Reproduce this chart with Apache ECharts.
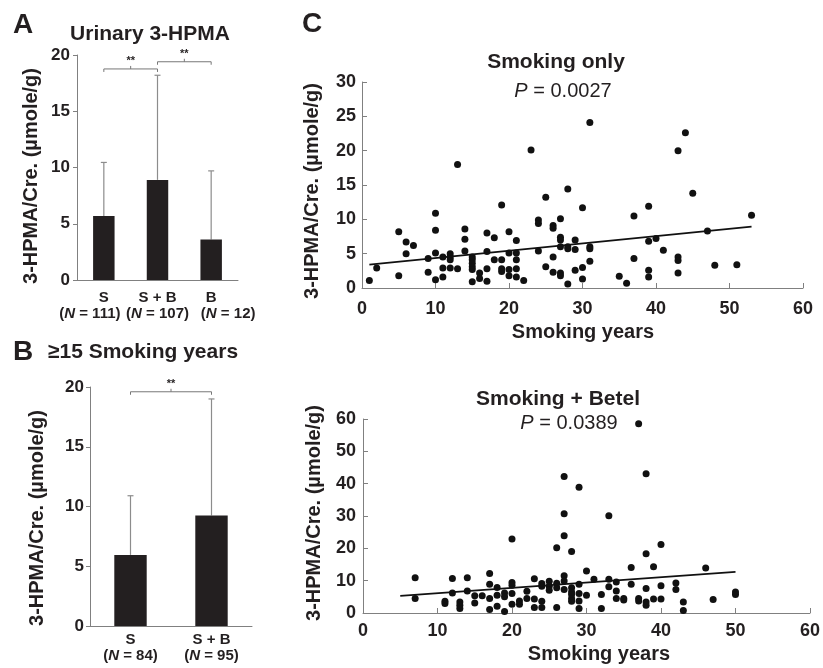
<!DOCTYPE html>
<html>
<head>
<meta charset="utf-8">
<script src="https://cdn.jsdelivr.net/npm/echarts@6/dist/echarts.min.js"></script>
<style>
html,body{margin:0;padding:0;background:#fff;}
#chart{width:823px;height:668px;}
</style>
</head>
<body>
<div id="chart"></div>
<script>
// ---------- DATA ----------
const catsA = ['S', 'S + B', 'B'];
const nA = [111, 107, 12];
const meanA = [5.7, 8.9, 3.6];
const sdA = [4.75, 9.3, 6.1];

const catsB = ['S', 'S + B'];
const nB = [84, 95];
const meanB = [5.95, 9.25];
const sdB = [4.95, 9.75];

const smokingOnly = [
[1,1.1],[2,2.9],[5,8.2],[5,1.8],[6,6.7],[7,6.2],[6,5.0],[9,4.3],[9,2.3],[10,10.9],[10,8.4],[10,5.1],[10,1.2],
[11,4.5],[11,2.9],[11,1.6],[12,5.0],[12,4.5],[12,4.1],[12,2.9],[13,18.0],[13,2.8],[14,8.6],[14,7.1],[14,5.4],
[15,4.5],[15,4.1],[15,3.6],[15,3.1],[15,2.7],[15,0.9],[16,2.2],[16,1.4],[17,8.0],[17,5.3],[17,2.8],[17,1.0],
[18,7.3],[18,4.1],[19,12.1],[19,4.1],[19,2.8],[19,2.4],[20,8.2],[20,5.1],[20,2.7],[20,1.8],[21,6.9],[21,5.1],
[21,4.1],[21,2.8],[21,1.6],[22,1.1],[23,20.1],[24,9.9],[24,9.4],[24,5.4],[25,13.2],[25,3.1],[26,9.1],[26,8.7],
[26,4.5],[26,2.3],[27,10.1],[27,7.4],[27,7.0],[27,6.0],[27,2.2],[27,1.8],[28,14.4],[28,6.0],[28,5.7],[28,0.6],
[29,7.0],[29,5.6],[29,2.6],[30,11.7],[30,3.0],[30,1.3],[31,24.1],[31,6.0],[31,5.7],[31,3.9],[35,1.7],[36,0.7],
[37,10.5],[37,4.3],[39,11.9],[39,6.8],[39,2.6],[39,1.6],[40,7.2],[41,5.5],[43,20.0],[43,4.5],[43,4.0],[43,2.2],
[44,22.6],[45,13.8],[47,8.3],[48,3.3],[51,3.4],[53,10.6]
];
const fitSmokingOnly = [[1, 3.4], [53, 8.95]];

const smokingBetel = [
[7,10.9],[7,4.5],[11,3.6],[11,2.9],[12,10.7],[12,6.2],[13,3.4],[13,2.4],[13,1.4],[14,10.9],[14,6.8],[15,5.3],
[15,3.1],[16,5.3],[17,12.2],[17,8.9],[17,4.5],[17,1.1],[18,7.9],[18,5.5],[18,2.1],[19,6.2],[19,5.0],[19,0.5],
[20,22.9],[20,9.4],[20,8.6],[20,6.0],[20,2.7],[21,3.7],[21,2.7],[22,6.7],[22,4.5],[23,10.6],[23,4.3],[23,1.7],
[24,9.1],[24,8.3],[24,3.6],[24,1.7],[25,9.8],[25,8.3],[25,7.0],[26,20.2],[26,9.2],[26,7.8],[26,1.7],[27,42.2],
[27,30.7],[27,23.9],[27,11.5],[27,9.9],[27,7.3],[28,19.0],[28,7.8],[28,6.5],[28,5.7],[28,4.5],[28,3.6],[29,38.9],
[29,8.9],[29,6.0],[29,3.7],[29,1.4],[30,13.0],[30,5.5],[31,10.4],[32,5.7],[32,1.4],[33,30.1],[33,10.4],[33,8.1],
[34,9.6],[34,6.8],[34,4.5],[35,4.5],[35,4.0],[36,14.1],[36,8.9],[37,58.5],[37,4.5],[37,3.7],[38,43.1],[38,18.3],
[38,7.6],[38,3.4],[38,2.4],[39,14.3],[39,4.3],[40,21.2],[40,8.4],[40,4.3],[42,9.3],[42,7.3],[43,3.4],[43,0.8],
[46,13.9],[47,4.2],[50,6.5],[50,5.7]
];
const fitSmokingBetel = [[5, 5.3], [50, 12.7]];

const pOnly = '0.0027';
const pBetel = '0.0389';

// ---------- STYLE ----------
const FONT = '"Liberation Sans", Arial, Helvetica, sans-serif';
const INK = '#231f20';
const AXIS = '#808080';
const WHISK = '#8c8c8c';

function errRender(params, api) {
  const x = api.value(0);
  const p0 = api.coord([x, api.value(1)]);
  const p1 = api.coord([x, api.value(2)]);
  const cap = 3;
  return {
    type: 'group',
    children: [
      { type: 'line', shape: { x1: p0[0], y1: p0[1], x2: p1[0], y2: p1[1] }, style: { stroke: WHISK, lineWidth: 1.2 } },
      { type: 'line', shape: { x1: p1[0] - cap, y1: p1[1], x2: p1[0] + cap, y2: p1[1] }, style: { stroke: WHISK, lineWidth: 1.2 } }
    ]
  };
}
function bracketRender(params, api) {
  const a = api.coord([api.value(0), api.value(2)]);
  const b = api.coord([api.value(1), api.value(2)]);
  const y = a[1], xm = (a[0] + b[0]) / 2;
  return {
    type: 'group',
    children: [
      { type: 'polyline', shape: { points: [[a[0], y + 3], [a[0], y], [b[0], y], [b[0], y + 3]] }, style: { stroke: '#777', lineWidth: 1, fill: null } },
      { type: 'line', shape: { x1: xm, y1: y, x2: xm, y2: y - 3 }, style: { stroke: '#777', lineWidth: 1 } },
      { type: 'text', x: xm, y: y - 2, style: { text: '**', fill: INK, font: 'bold 11px ' + FONT, textAlign: 'center', textVerticalAlign: 'bottom' } }
    ]
  };
}

// shifts: horizontal offset (px) of the "(N = ..)" line for each category
function catAxis(gi, cats, ns, margin, shifts) {
  const rich = {
    b: { fontFamily: FONT, fontWeight: 'bold', fontSize: 15, lineHeight: 17, color: INK }
  };
  cats.forEach((c, i) => {
    const s = shifts[i] || 0;
    const base = { fontFamily: FONT, fontWeight: 'bold', fontSize: 15, lineHeight: 16, color: INK };
    rich['l' + i] = Object.assign({}, base, s > 0 ? { padding: [0, 0, 0, 2 * s] } : {});
    rich['i' + i] = Object.assign({}, base, { fontStyle: 'italic' });
    rich['r' + i] = Object.assign({}, base, s < 0 ? { padding: [0, -2 * s, 0, 0] } : {});
  });
  return {
    type: 'category', gridIndex: gi, data: cats,
    axisLine: { show: true, lineStyle: { color: AXIS, width: 1 } },
    axisTick: { show: false },
    axisLabel: {
      interval: 0, margin: margin, color: INK, fontFamily: FONT, fontWeight: 'bold', fontSize: 15, lineHeight: 16,
      formatter: (v, i) => '{b|' + v + '}\n{l' + i + '|(}{i' + i + '|N}{r' + i + '| = ' + ns[i] + ')}',
      rich: rich
    }
  };
}
function valAxisBar(gi, margin) {
  return {
    type: 'value', gridIndex: gi, min: 0, max: 20, interval: 5,
    axisLine: { show: true, lineStyle: { color: AXIS, width: 1 } },
    axisTick: { show: true, inside: false, length: 4, lineStyle: { color: AXIS } },
    splitLine: { show: false },
    axisLabel: { margin: margin, color: INK, fontFamily: FONT, fontWeight: 'bold', fontSize: 17 }
  };
}
function sAxis(gi, max, interval, margin) {
  return {
    type: 'value', gridIndex: gi, min: 0, max: max, interval: interval,
    axisLine: { show: true, onZero: false, lineStyle: { color: AXIS, width: 1 } },
    axisTick: { show: true, inside: true, length: 5, lineStyle: { color: AXIS } },
    splitLine: { show: false },
    axisLabel: { margin: margin, color: INK, fontFamily: FONT, fontWeight: 'bold', fontSize: 18 }
  };
}

function txt(x, y, text, size, weight) {
  return { type: 'text', x: x, y: y,
    style: { text: text, fill: INK, font: (weight || 'bold') + ' ' + size + 'px ' + FONT, textAlign: 'center', textVerticalAlign: 'middle' } };
}
function rtxt(x, y, text) {
  return { type: 'text', x: x, y: y, rotation: Math.PI / 2,
    style: { text: text, fill: INK, font: 'bold 20px ' + FONT, textAlign: 'center', textVerticalAlign: 'middle' } };
}
function ptxt(x, y, p) {
  return { type: 'text', x: x, y: y,
    style: { text: '{i|P} = ' + p, fill: INK, font: '20px ' + FONT, textAlign: 'center', textVerticalAlign: 'middle',
      rich: { i: { fontStyle: 'italic', fontSize: 20, fontFamily: FONT, fill: INK } } } };
}

const yName = '3-HPMA/Cre. (\u00b5mole/g)';

const chart = echarts.init(document.getElementById('chart'), null, { renderer: 'canvas' });
chart.setOption({
  animation: false,
  backgroundColor: '#fff',
  grid: [
    { left: 77, top: 55, width: 161, height: 225 },
    { left: 90, top: 387, width: 162, height: 239 },
    { left: 362, top: 82, width: 441, height: 206 },
    { left: 363, top: 419, width: 448, height: 194 }
  ],
  xAxis: [
    catAxis(0, catsA, nA, 9, [-14, 0, 17]),
    catAxis(1, catsB, nB, 5, [0, 0]),
    sAxis(2, 60, 10, 12),
    sAxis(3, 60, 10, 9)
  ],
  yAxis: [
    valAxisBar(0, 7),
    valAxisBar(1, 6),
    sAxis(2, 30, 5, 6),
    sAxis(3, 60, 10, 7)
  ],
  series: [
    { type: 'bar', xAxisIndex: 0, yAxisIndex: 0, data: meanA, barWidth: '40%', itemStyle: { color: INK } },
    { type: 'custom', xAxisIndex: 0, yAxisIndex: 0, renderItem: errRender,
      data: meanA.map((m, i) => [i, m, m + sdA[i]]) },
    { type: 'custom', xAxisIndex: 0, yAxisIndex: 0, renderItem: bracketRender,
      data: [[0, 1, 18.76], [1, 2, 19.4]] },
    { type: 'bar', xAxisIndex: 1, yAxisIndex: 1, data: meanB, barWidth: '40%', itemStyle: { color: INK } },
    { type: 'custom', xAxisIndex: 1, yAxisIndex: 1, renderItem: errRender,
      data: meanB.map((m, i) => [i, m, m + sdB[i]]) },
    { type: 'custom', xAxisIndex: 1, yAxisIndex: 1, renderItem: bracketRender,
      data: [[0, 1, 19.6]] },
    { type: 'scatter', xAxisIndex: 2, yAxisIndex: 2, data: smokingOnly, symbolSize: 7, itemStyle: { color: '#111', opacity: 1 } },
    { type: 'line', xAxisIndex: 2, yAxisIndex: 2, data: fitSmokingOnly, symbol: 'none', lineStyle: { color: '#111', width: 1.8 } },
    { type: 'scatter', xAxisIndex: 3, yAxisIndex: 3, data: smokingBetel, symbolSize: 7, itemStyle: { color: '#111', opacity: 1 } },
    { type: 'line', xAxisIndex: 3, yAxisIndex: 3, data: fitSmokingBetel, symbol: 'none', lineStyle: { color: '#111', width: 1.8 } }
  ],
  graphic: [
    txt(23, 25, 'A', 28),
    txt(23, 352, 'B', 28),
    txt(312, 24, 'C', 28),
    txt(150, 34, 'Urinary 3-HPMA', 21),
    txt(143, 352, '\u226515 Smoking years', 21),
    txt(556, 62, 'Smoking only', 21),
    ptxt(563, 91, pOnly),
    txt(558, 399, 'Smoking + Betel', 21),
    ptxt(569, 423, pBetel),
    txt(583, 332, 'Smoking years', 20),
    txt(599, 654, 'Smoking years', 20),
    rtxt(31, 176, yName),
    rtxt(37, 518, yName),
    rtxt(312, 191, yName),
    rtxt(314, 513, yName)
  ]
});
</script>
</body>
</html>
